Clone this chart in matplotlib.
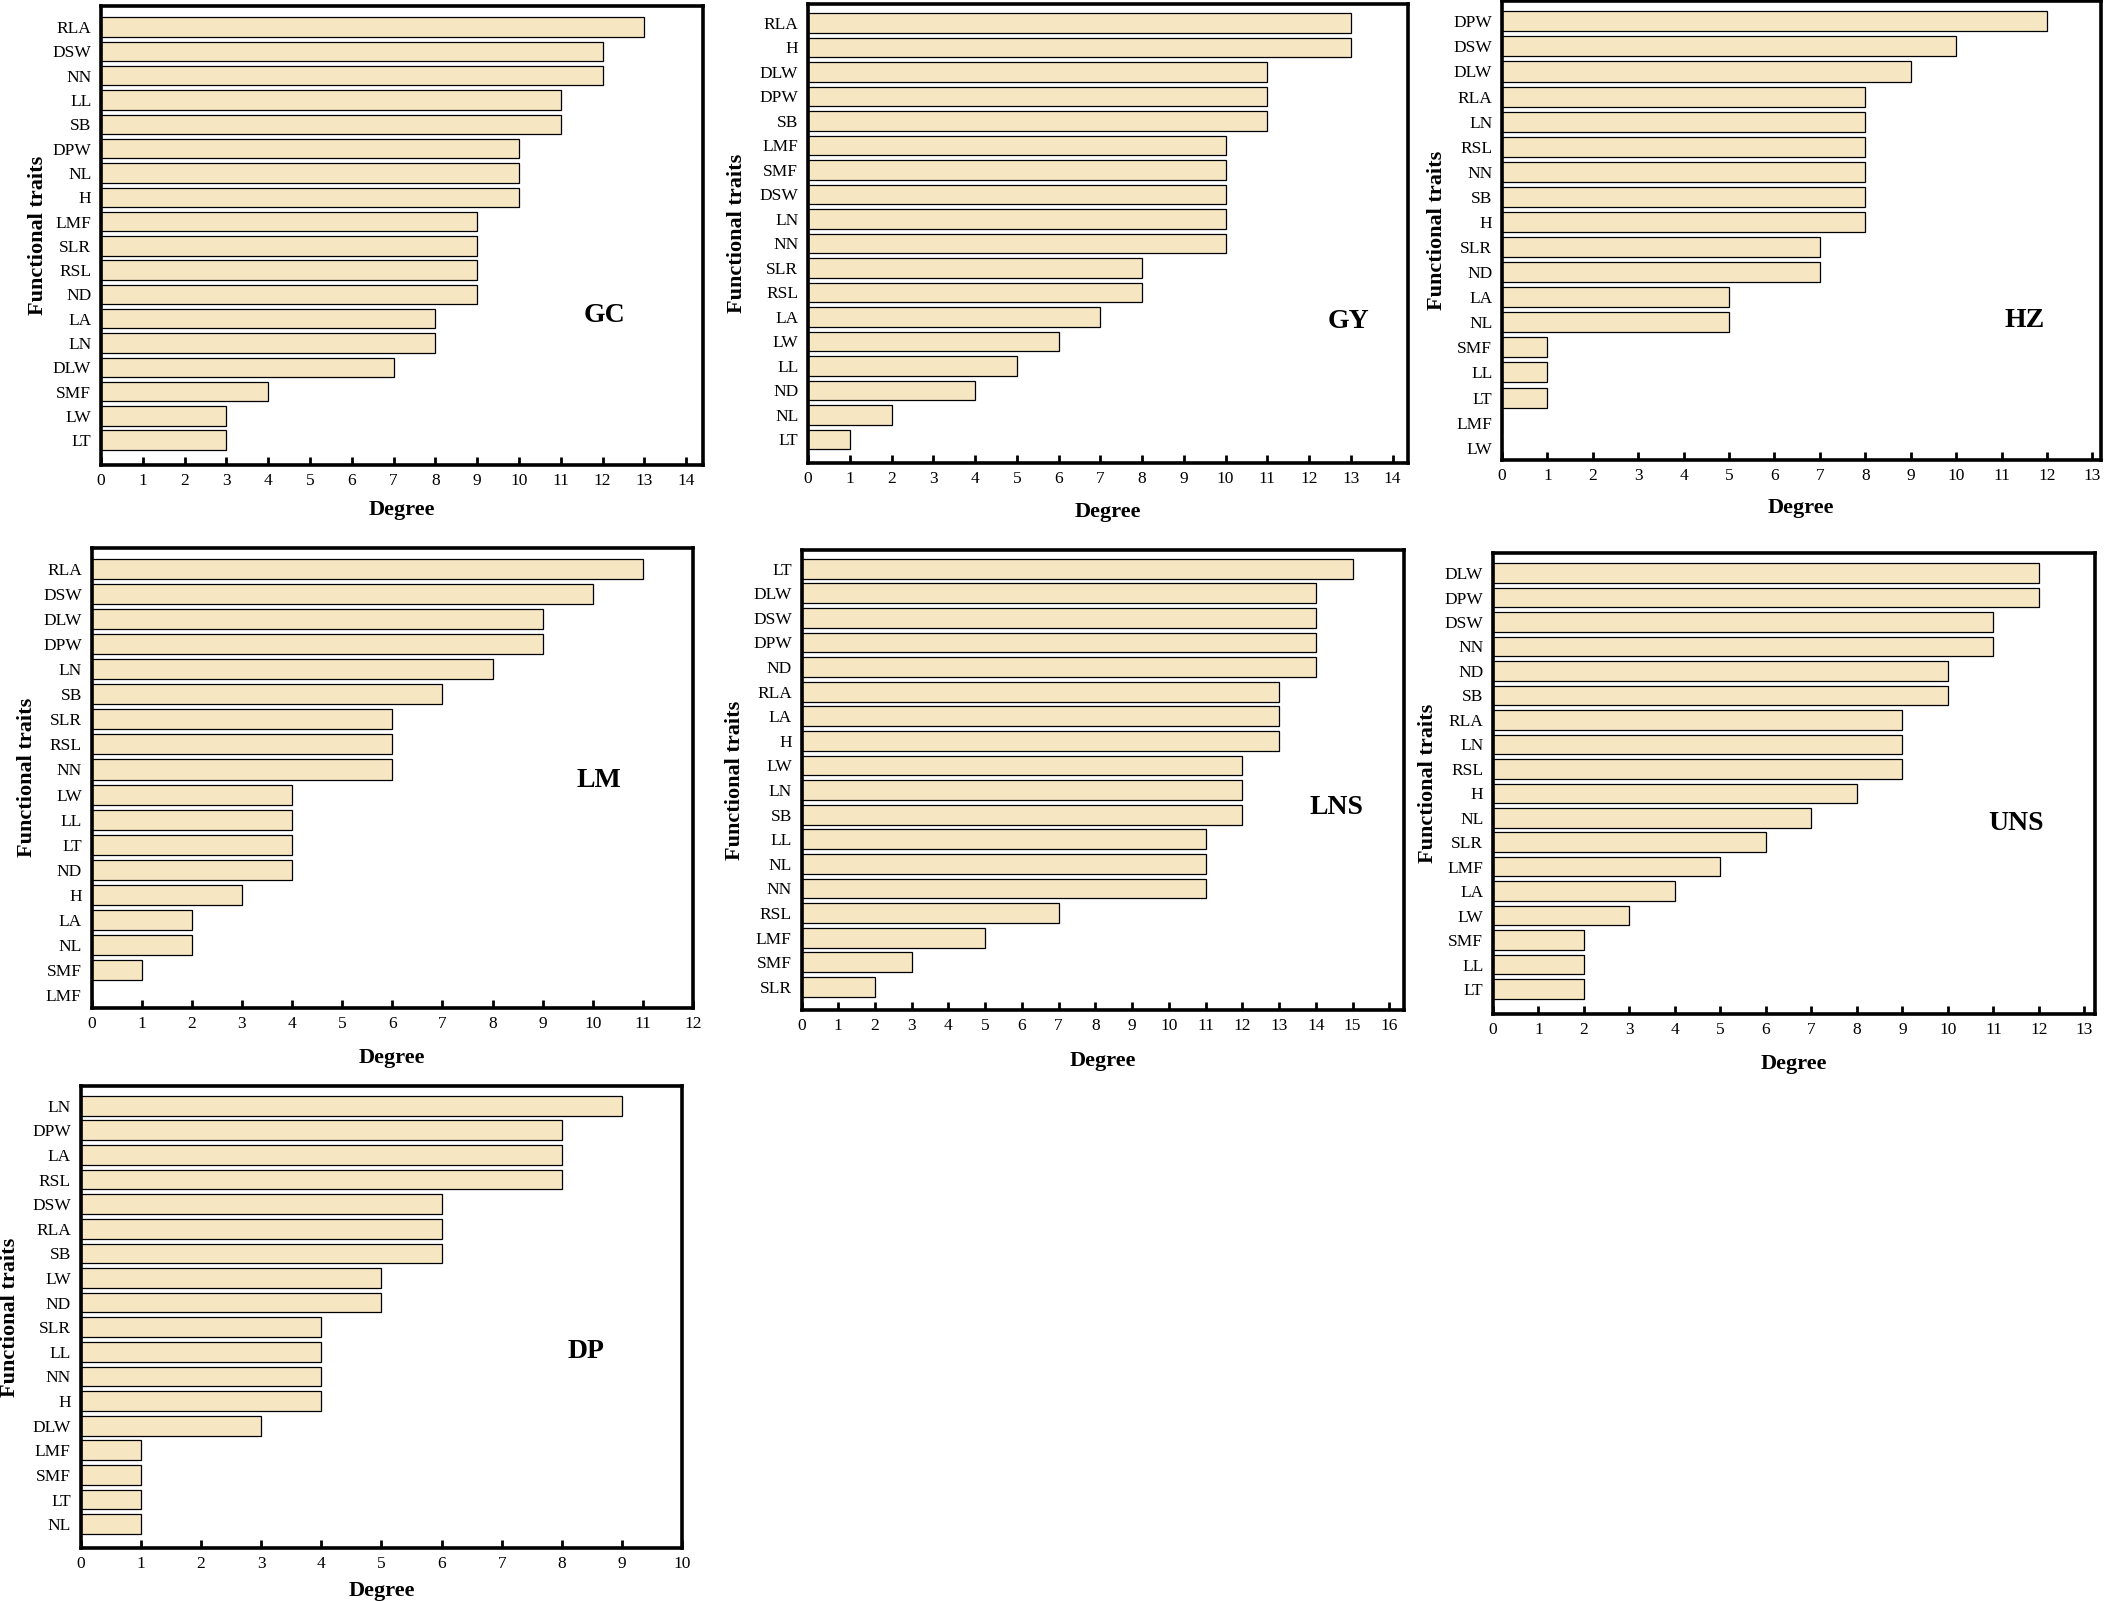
import matplotlib
matplotlib.use("Agg")
import matplotlib.pyplot as plt

plt.rcParams['font.family'] = ['Liberation Serif', 'DejaVu Serif']

# ---------------- data (top -> bottom order) ----------------
gc_traits = ["RLA", "DSW", "NN", "LL", "SB", "DPW", "NL", "H", "LMF", "SLR", "RSL", "ND", "LA", "LN", "DLW", "SMF", "LW", "LT"]
gc_degree = [13, 12, 12, 11, 11, 10, 10, 10, 9, 9, 9, 9, 8, 8, 7, 4, 3, 3]

gy_traits = ["RLA", "H", "DLW", "DPW", "SB", "LMF", "SMF", "DSW", "LN", "NN", "SLR", "RSL", "LA", "LW", "LL", "ND", "NL", "LT"]
gy_degree = [13, 13, 11, 11, 11, 10, 10, 10, 10, 10, 8, 8, 7, 6, 5, 4, 2, 1]

hz_traits = ["DPW", "DSW", "DLW", "RLA", "LN", "RSL", "NN", "SB", "H", "SLR", "ND", "LA", "NL", "SMF", "LL", "LT", "LMF", "LW"]
hz_degree = [12, 10, 9, 8, 8, 8, 8, 8, 8, 7, 7, 5, 5, 1, 1, 1, 0, 0]

lm_traits = ["RLA", "DSW", "DLW", "DPW", "LN", "SB", "SLR", "RSL", "NN", "LW", "LL", "LT", "ND", "H", "LA", "NL", "SMF", "LMF"]
lm_degree = [11, 10, 9, 9, 8, 7, 6, 6, 6, 4, 4, 4, 4, 3, 2, 2, 1, 0]

lns_traits = ["LT", "DLW", "DSW", "DPW", "ND", "RLA", "LA", "H", "LW", "LN", "SB", "LL", "NL", "NN", "RSL", "LMF", "SMF", "SLR"]
lns_degree = [15, 14, 14, 14, 14, 13, 13, 13, 12, 12, 12, 11, 11, 11, 7, 5, 3, 2]

uns_traits = ["DLW", "DPW", "DSW", "NN", "ND", "SB", "RLA", "LN", "RSL", "H", "NL", "SLR", "LMF", "LA", "LW", "SMF", "LL", "LT"]
uns_degree = [12, 12, 11, 11, 10, 10, 9, 9, 9, 8, 7, 6, 5, 4, 3, 2, 2, 2]

dp_traits = ["LN", "DPW", "LA", "RSL", "DSW", "RLA", "SB", "LW", "ND", "SLR", "LL", "NN", "H", "DLW", "LMF", "SMF", "LT", "NL"]
dp_degree = [9, 8, 8, 8, 6, 6, 6, 5, 5, 4, 4, 4, 4, 3, 1, 1, 1, 1]

panel_names = ["GC", "GY", "HZ", "LM", "LNS", "UNS", "DP"]
panel_traits = [gc_traits, gy_traits, hz_traits, lm_traits, lns_traits, uns_traits, dp_traits]
panel_degree = [gc_degree, gy_degree, hz_degree, lm_degree, lns_degree, uns_degree, dp_degree]
panel_xmax_tick = [14, 14, 13, 12, 16, 13, 10]

# ---------------- layout (pixel boxes: left, top, right, bottom) ----------------
W, H = 2105, 1601
boxes = {
    "GC":  (101, 6.5, 703, 465),
    "GY":  (808, 4, 1408, 463),
    "HZ":  (1502, 1.5, 2100.5, 460),
    "LM":  (91.5, 547.5, 693, 1008),
    "LNS": (801.5, 550, 1404, 1010),
    "UNS": (1493, 553, 2094.5, 1014),
    "DP":  (80.5, 1086, 682.5, 1548),
}
xlims = {"GC": 14.4, "GY": 14.37, "HZ": 13.18, "LM": 12.0, "LNS": 16.4, "UNS": 13.22, "DP": 10.0}
ymargins = {"GC": (0.85, 1.02), "GY": (0.77, 0.96), "HZ": (0.79, 0.49), "LM": (0.86, 0.52),
            "LNS": (0.76, 0.94), "UNS": (0.82, 1.02), "DP": (0.80, 0.97)}
label_pos = {"GC": (0.837, 0.325), "GY": (0.901, 0.309), "HZ": (0.874, 0.305), "LM": (0.844, 0.494),
             "LNS": (0.888, 0.441), "UNS": (0.870, 0.413), "DP": (0.839, 0.426)}
ylabel_off = {"GC": 63, "GY": 71, "HZ": 65.5, "LM": 64, "LNS": 67, "UNS": 65, "DP": 71}
xlabel_off = {"GC": 45.5, "GY": 48.5, "HZ": 48, "LM": 49.5, "LNS": 51, "UNS": 49.5, "DP": 42.5}

bar_color = "#F6E6C2"

fig = plt.figure(figsize=(W / 100, H / 100), dpi=100)

for name, traits, deg, xt in zip(panel_names, panel_traits, panel_degree, panel_xmax_tick):
    l, t, r, b = boxes[name]
    ax = fig.add_axes([l / W, 1 - b / H, (r - l) / W, (b - t) / H])
    pos = list(range(len(traits)))
    ax.barh(pos, deg, height=0.8, color=bar_color, edgecolor="black", linewidth=0.9, zorder=2)
    top_m, bot_m = ymargins[name]
    ax.set_ylim(len(traits) - 1 + bot_m, -top_m)
    ax.set_xlim(0, xlims[name])
    ax.set_yticks(pos)
    ax.set_yticklabels(traits, fontsize=12.5)
    ax.set_xticks(range(0, xt + 1))
    ax.tick_params(axis="x", direction="in", length=6, width=2, labelsize=12.5, pad=6)
    ax.tick_params(axis="y", length=0, pad=7)
    for sp in ax.spines.values():
        sp.set_linewidth(2.6)
        sp.set_zorder(5)
    ax.set_ylabel("Functional traits", fontsize=16, fontweight="bold", va="center")
    ax.yaxis.set_label_coords(-ylabel_off[name] / (r - l), 0.5)
    ax.set_xlabel("Degree", fontsize=16, fontweight="bold", va="center")
    ax.xaxis.set_label_coords(0.5, -xlabel_off[name] / (b - t))
    lx, ly = label_pos[name]
    ax.text(lx, ly, name, transform=ax.transAxes, ha="center", va="center",
            fontsize=20, fontweight="bold")

fig.savefig("out.png", dpi=100)
